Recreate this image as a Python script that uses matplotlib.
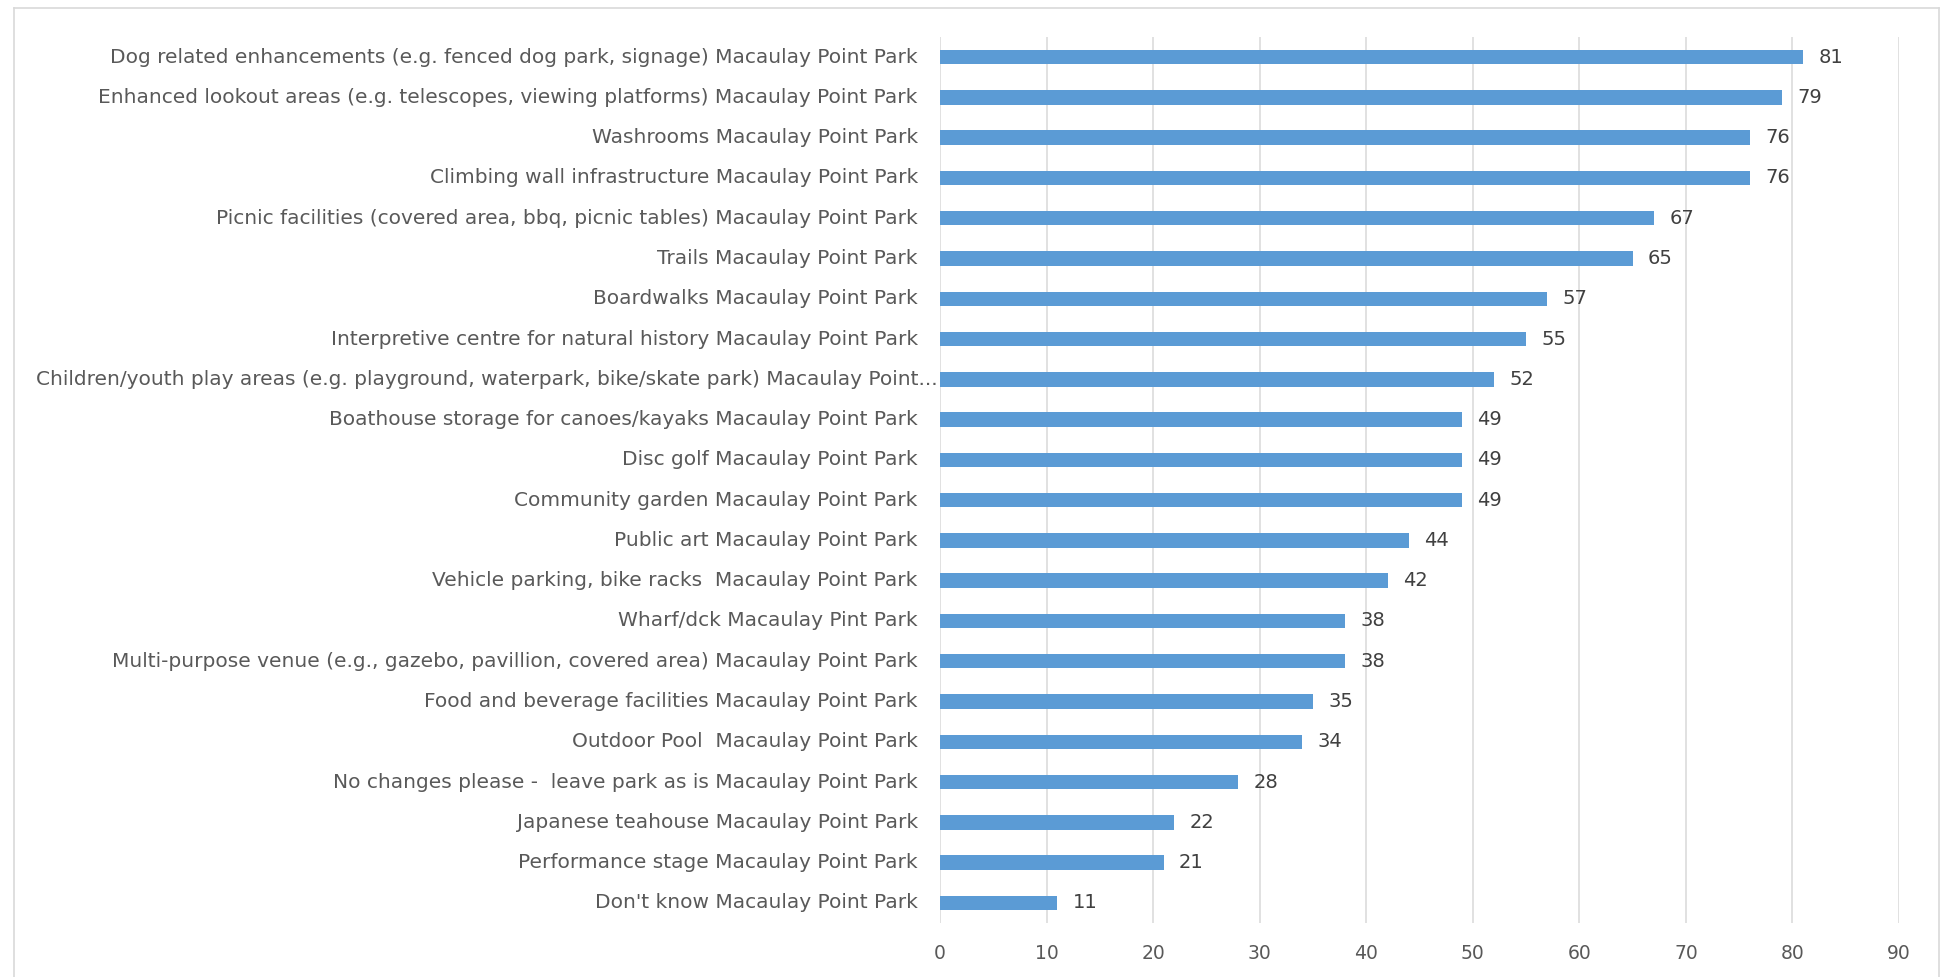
import matplotlib
matplotlib.use("Agg")
import matplotlib.pyplot as plt
from matplotlib.lines import Line2D

labels = [
    "Dog related enhancements (e.g. fenced dog park, signage) Macaulay Point Park",
    "Enhanced lookout areas (e.g. telescopes, viewing platforms) Macaulay Point Park",
    "Washrooms Macaulay Point Park",
    "Climbing wall infrastructure Macaulay Point Park",
    "Picnic facilities (covered area, bbq, picnic tables) Macaulay Point Park",
    "Trails Macaulay Point Park",
    "Boardwalks Macaulay Point Park",
    "Interpretive centre for natural history Macaulay Point Park",
    "Children/youth play areas (e.g. playground, waterpark, bike/skate park) Macaulay Point...",
    "Boathouse storage for canoes/kayaks Macaulay Point Park",
    "Disc golf Macaulay Point Park",
    "Community garden Macaulay Point Park",
    "Public art Macaulay Point Park",
    "Vehicle parking, bike racks  Macaulay Point Park",
    "Wharf/dck Macaulay Pint Park",
    "Multi-purpose venue (e.g., gazebo, pavillion, covered area) Macaulay Point Park",
    "Food and beverage facilities Macaulay Point Park",
    "Outdoor Pool  Macaulay Point Park",
    "No changes please -  leave park as is Macaulay Point Park",
    "Japanese teahouse Macaulay Point Park",
    "Performance stage Macaulay Point Park",
    "Don't know Macaulay Point Park",
]
values = [81, 79, 76, 76, 67, 65, 57, 55, 52, 49, 49, 49, 44, 42, 38, 38, 35, 34, 28, 22, 21, 11]
xticks = [0, 10, 20, 30, 40, 50, 60, 70, 80, 90]

BLUE = "#5B9BD5"
GRID = "#D9D9D9"
TEXT = "#595959"

plt.rcParams["font.family"] = ["DejaVu Sans"]

W, H = 1942, 977
fig = plt.figure(figsize=(W / 100, H / 100), dpi=100)
ax = fig.add_axes([940 / W, 1 - 923 / H, (1899 - 940) / W, (923 - 37) / H])

ypos = list(range(len(labels)))
ax.barh(ypos, values, height=0.36, color=BLUE, zorder=3)
ax.set_ylim(len(labels) - 0.5, -0.5)
ax.set_xlim(0, 90)
ax.set_xticks(xticks)
ax.set_xticklabels([str(t) for t in xticks], color=TEXT, fontsize=13.5)
ax.tick_params(axis="x", length=0, pad=15)
ax.set_yticks([])
ax.grid(axis="x", color=GRID, linewidth=1.1, zorder=0)
for s in ax.spines.values():
    s.set_visible(False)

# category labels, right aligned against the axis
for i, lab in enumerate(labels):
    dx = -2 if lab.endswith("...") else -16
    ax.annotate(lab, xy=(0, i), xycoords=ax.get_yaxis_transform(),
                xytext=(dx, 0), textcoords="offset points",
                ha="right", va="center", fontsize=14.5, color=TEXT)

# value labels
for i, v in enumerate(values):
    ax.annotate(str(v), xy=(v, i), xytext=(11, 0), textcoords="offset points",
                ha="left", va="center", fontsize=14, color="#404040")

# chart border
fig.add_artist(Line2D([14 / W, 1939 / W], [1 - 8 / H, 1 - 8 / H], transform=fig.transFigure, color=GRID, lw=1.2))
fig.add_artist(Line2D([14 / W, 14 / W], [0, 1 - 8 / H], transform=fig.transFigure, color=GRID, lw=1.2))
fig.add_artist(Line2D([1939 / W, 1939 / W], [0, 1 - 8 / H], transform=fig.transFigure, color=GRID, lw=1.2))

fig.savefig("out.png", dpi=100)
